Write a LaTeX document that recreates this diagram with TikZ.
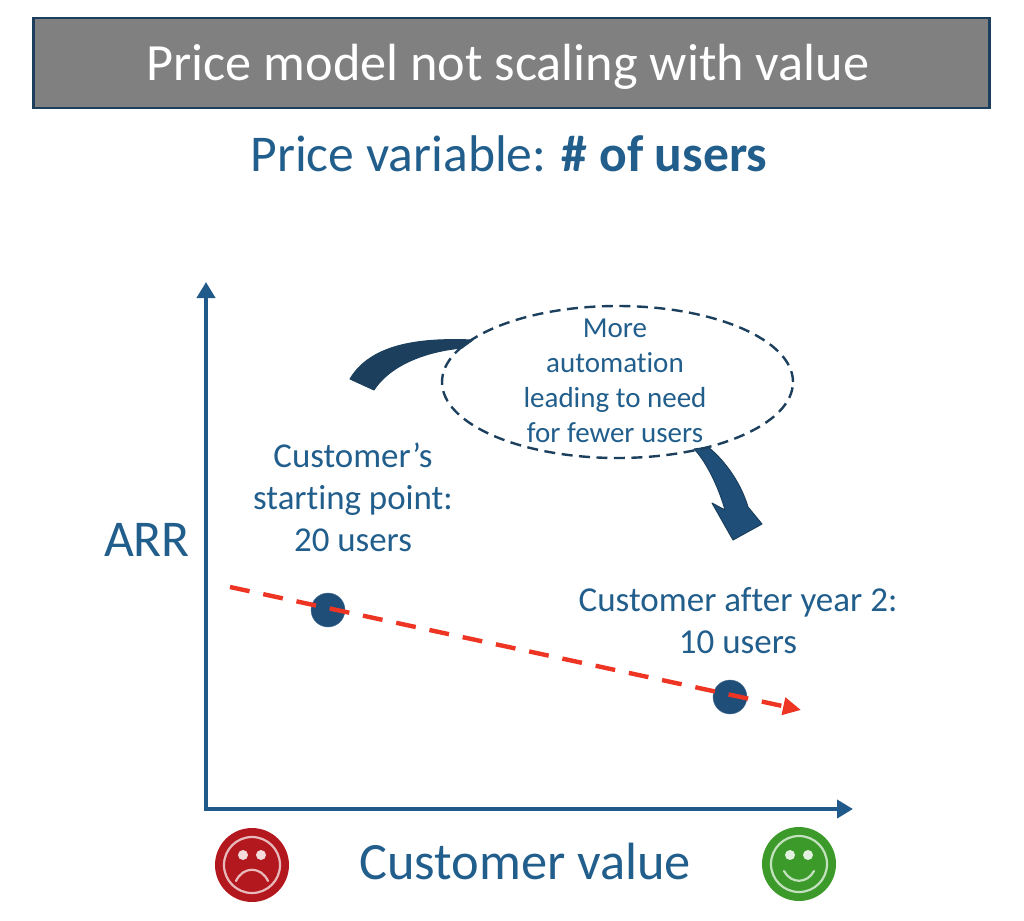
\documentclass[tikz,border=0pt]{standalone}
\usepackage{fontspec}
\setmainfont[Ligatures=NoCommon]{Carlito}
\usetikzlibrary{arrows.meta,shapes.geometric}
\definecolor{blu}{HTML}{1F5A8A}
\definecolor{txt}{HTML}{215E8C}
\definecolor{navy}{HTML}{1F4E79}
\definecolor{dk}{HTML}{1B3F5C}
\definecolor{rd}{HTML}{EE3524}
\definecolor{sad}{HTML}{B3181E}
\definecolor{hap}{HTML}{3C9A2A}
\tikzset{
  x=1pt,y=-1pt,
  lbl/.style={text=txt,align=center,inner sep=0pt},
  axisline/.style={draw=blu,line width=4.2pt,-{Triangle[length=16pt,width=18pt]}},
  dot/.style={circle,fill=navy,draw=navy!80,minimum size=34pt,inner sep=0pt},
  trend/.style={draw=rd,line width=4.4pt,dash pattern=on 20pt off 14pt,-{Triangle[length=18pt,width=17pt]}},
  sweep/.style={line width=1pt,line join=round},
  face/.style={circle,minimum size=74pt,inner sep=0pt},
  faceline/.style={draw=white!70!#1,line width=2.2pt,line cap=round}
}
\begin{document}
\begin{tikzpicture}
\useasboundingbox (0,0) rectangle (1024,920);
\node[draw=dk,fill=black!50,line width=2.6pt,minimum width=956pt,minimum height=90pt,inner sep=0pt] (titlebox) at (511.5,63) {};
\node[inner sep=0pt,text=white,font=\fontsize{52.3}{56}\selectfont] (title) at (508,67) {Price model not scaling with value};
\node[lbl,font=\fontsize{51.6}{56}\selectfont] (sub) at (509,154) {Price variable: \textbf{\# of users}};
\coordinate (origin) at (206,809);
\coordinate (ytop) at (206,282);
\coordinate (xend) at (853,809);
\draw[axisline] (origin) -- (ytop);
\draw[axisline] ([xshift=-2.1pt]origin) -- (xend);
\node[lbl,font=\fontsize{51.6}{56}\selectfont] (arr) at (147,540) {ARR};
\node[lbl,font=\fontsize{52.4}{56}\selectfont] (cv) at (525,861) {Customer value};
% curved arrows
\path[fill=dk,draw=dk,sweep] (473,340) .. controls (425,338) and (372,342) .. (350,379) -- (374,390) .. controls (388,368) and (420,352) .. (462,348) -- cycle;
\path[fill=navy,draw=dk,sweep] (694,449) -- (708,447) .. controls (722,458) and (740,480) .. (748,507) -- (762,524) -- (733,540) -- (712,503) -- (725,510) .. controls (718,485) and (705,460) .. (694,449) -- cycle;
\node[ellipse,draw=dk,line width=2.4pt,dash pattern=on 11pt off 6.5pt,minimum width=351pt,minimum height=152pt,inner sep=0pt] (cloud) at (617.5,382) {};
\node[lbl,font=\fontsize{29}{35}\selectfont] (cloudtxt) at (615,381) {More\\automation\\leading to need\\for fewer users};
\node[lbl,font=\fontsize{34.9}{42}\selectfont] (start) at (353,497) {Customer’s\\starting point:\\20 users};
\node[lbl,font=\fontsize{35}{42}\selectfont] (after) at (738,621) {Customer after year 2:\\10 users};
\node[dot] (p1) at (328,610) {};
\node[dot] (p2) at (730,697) {};
\coordinate (tstart) at (230,587);
\coordinate (tend) at (801,710);
\draw[trend] (tstart) -- (tend);
% faces
\node[face,fill=sad] (sadface) at (252,865) {};
\draw[faceline=sad,fill=none] (252,865) circle (28);
\fill[white!85!sad] (243,855) circle (5) (261,855) circle (5);
\draw[faceline=sad] (236,881) .. controls (243,866) and (261,866) .. (268,881);
\node[face,fill=hap] (hapface) at (799,864) {};
\draw[faceline=hap,fill=none] (799,864) circle (28);
\fill[white!85!hap] (790,855) circle (5) (808,855) circle (5);
\draw[faceline=hap] (784,871) .. controls (791,884) and (807,884) .. (814,871);
\end{tikzpicture}
\end{document}
